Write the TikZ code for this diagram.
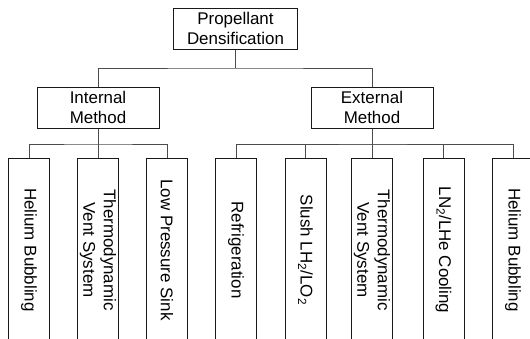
\documentclass[tikz,border=0pt]{standalone}
\usepackage{fontspec}
\setmainfont{Liberation Sans}
\tikzstyle{box}  = [
    draw=black!90,
    line width=1bp,
    fill=white,
    align=center,
    inner sep=0pt,
    minimum width=122bp,
    minimum height=41bp,
    font=\fontsize{17}{20.5}\selectfont
]
\tikzstyle{leaf} = [
    box,
    rotate=-90,
    minimum width=184bp,
    minimum height=41bp
]
\tikzstyle{conn} = [
    draw=black!70,
    line width=1bp
]

\begin{document}
\begin{tikzpicture}[x = 1bp, y = -1bp]
\useasboundingbox (0,0) rectangle (530,338);
\clip (0,0) rectangle (530,338);

\node[box, minimum width=124bp] (pd) at (235.5,28.5) {Propellant\\Densification};
\node[box] (im)  at (98,107.5)  {Internal\\Method};
\node[box] (em)  at (372,107.5) {External\\Method};

\node[leaf] (i1) at (29,250)    {Helium Bubbling};
\node[leaf] (i2) at (98,250)    {Thermodynamic\\Vent System};
\node[leaf] (i3) at (167,250)   {Low Pressure Sink};
\node[leaf] (e1) at (236,250)   {Refrigeration};
\node[leaf] (e2) at (305.5,250) {Slush LH\textsubscript{2}/LO\textsubscript{2}};
\node[leaf] (e3) at (372,250)   {Thermodynamic\\Vent System};
\node[leaf] (e4) at (443.5,250) {LN\textsubscript{2}/LHe Cooling};
\node[leaf] (e5) at (513,250)   {Helium Bubbling};

\coordinate (b0) at (235.5,68);
\coordinate (bi) at (98,144);
\coordinate (be) at (372,144);

\draw[conn] (pd.south)  -- (b0);
\draw[conn] (im.north)  |- (b0) -| (em.north);
\draw[conn] (im.south)  -- (i2.west);
\draw[conn] (i1.west)   |- (bi) -| (i3.west);
\draw[conn] (em.south)  -- (e3.west);
\draw[conn] (e1.west)   |- (be) -| (e5.west);
\draw[conn] (e2.west)   |- (be) -| (e4.west);

\end{tikzpicture}
\end{document}
